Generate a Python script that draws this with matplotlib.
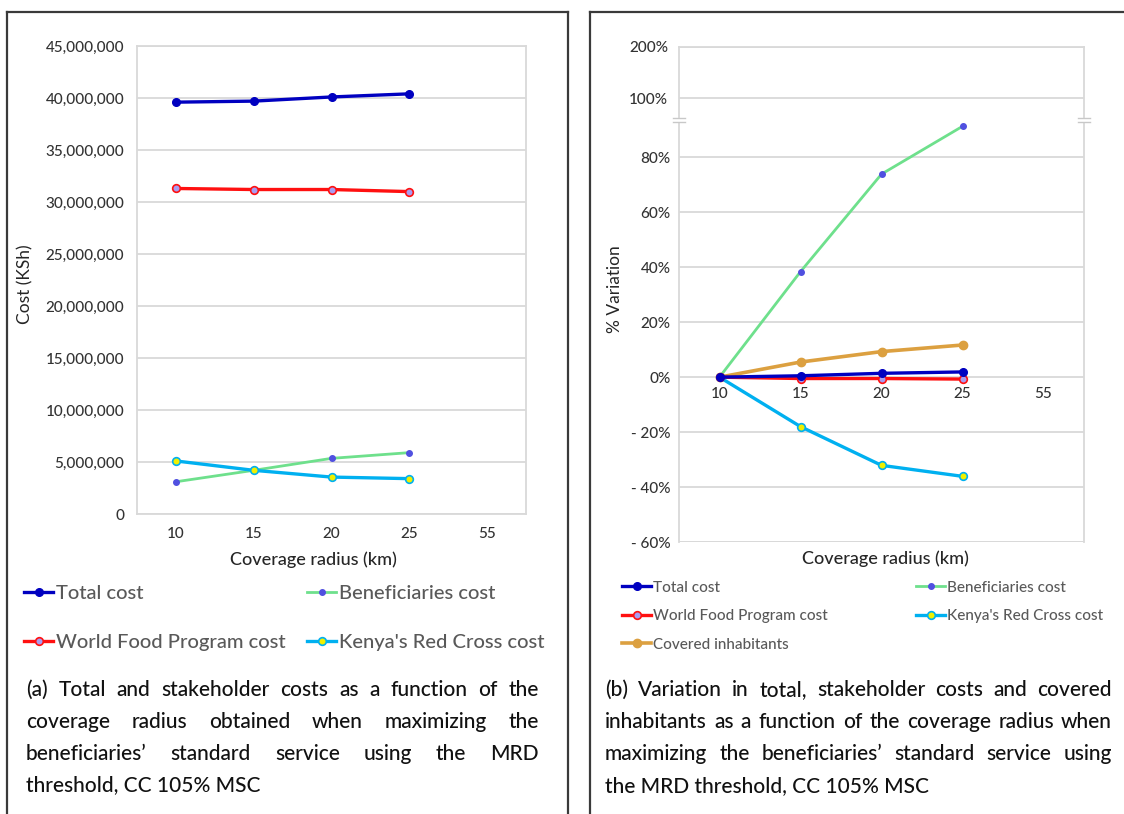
import numpy as np
import matplotlib.pyplot as plt
from matplotlib.lines import Line2D

plt.rcParams['font.family'] = ['Lato', 'DejaVu Sans']
plt.rcParams['font.weight'] = 'medium'

W, H = 1124, 814  # figure size in pixels

# ---- data ----
radius = ['10', '15', '20', '25', '55']

# (a) costs in KSh
total_cost = [39.6e6, 39.7e6, 40.1e6, 40.4e6]
wfp_cost = [31.3e6, 31.2e6, 31.2e6, 31.0e6]
benef_cost = [3.1e6, 4.2e6, 5.35e6, 5.9e6]
krc_cost = [5.1e6, 4.2e6, 3.55e6, 3.4e6]

# (b) % variation against the 10 km case
total_var = [0, 0.5, 1.4, 1.9]
wfp_var = [0, -0.5, -0.5, -0.7]
benef_var = [0, 38.4, 73.9, 91.3]
krc_var = [0, -18.0, -32.1, -36.1]
inhab_var = [0, 5.5, 9.3, 11.7]

cost_ticks = [0, 5e6, 10e6, 15e6, 20e6, 25e6, 30e6, 35e6, 40e6, 45e6]
var_ticks_low = [-60, -40, -20, 0, 20, 40, 60, 80]
var_labels_low = ['- 60%', '- 40%', '- 20%', '0%', '20%', '40%', '60%', '80%']
var_ticks_high = [100, 200]
var_labels_high = ['100%', '200%']

caption_a = ["(a) Total and stakeholder costs as a function of the",
             "coverage radius obtained when maximizing the",
             "beneficiaries\u2019 standard service using the MRD",
             "threshold, CC 105% MSC"]
caption_b = ["(b) Variation in total, stakeholder costs and covered",
             "inhabitants as a function of the coverage radius when",
             "maximizing the beneficiaries\u2019 standard service using",
             "the MRD threshold, CC 105% MSC"]

# ---- styles ----
styles = {
    'Total cost': dict(color='#0000c0', lw=2.4, marker='o', ms=5.5, mfc='#0000c0', mec='#0000c0'),
    'World Food Program cost': dict(color='#ff1010', lw=2.4, marker='o', ms=5.5, mfc='#a89cf0', mec='#ff1010', mew=1.2),
    'Beneficiaries cost': dict(color='#6ee08c', lw=2.0, marker='o', ms=4, mfc='#5050e0', mec='#5050e0'),
    "Kenya's Red Cross cost": dict(color='#00b0f0', lw=2.4, marker='o', ms=5.5, mfc='#f0f000', mec='#00b0f0', mew=1.2),
    'Covered inhabitants': dict(color='#dca040', lw=2.6, marker='o', ms=6, mfc='#dca040', mec='#dca040'),
}
grid_c = '#d9d9d9'
tick_c = '#333333'


def box(l, t, r, b):
    return [l / W, 1 - b / H, (r - l) / W, (b - t) / H]


def fx(x):
    return x / W


def fy(y):
    return 1 - y / H


fig = plt.figure(figsize=(W / 100, H / 100), dpi=100)

# ---------------- (a) ----------------
axa = fig.add_axes(box(137, 46, 526, 514))
xa = np.arange(len(total_cost))
axa.plot(xa, total_cost, **styles['Total cost'], zorder=3)
axa.plot(xa, wfp_cost, **styles['World Food Program cost'], zorder=3)
axa.plot(xa, benef_cost, **styles['Beneficiaries cost'], zorder=3)
axa.plot(xa, krc_cost, **styles["Kenya's Red Cross cost"], zorder=3)
axa.set_xlim(-0.5, len(radius) - 0.5)
axa.set_xticks(range(len(radius)))
axa.set_xticklabels(radius)
axa.set_ylim(0, 45e6)
axa.set_yticks(cost_ticks)
axa.set_yticklabels([f'{v:,.0f}' for v in cost_ticks])
axa.yaxis.grid(True, color=grid_c, lw=1.3)
axa.set_axisbelow(True)
for s in axa.spines.values():
    s.set_color(grid_c)
    s.set_linewidth(1.3)
axa.tick_params(length=0, labelsize=11, colors=tick_c)
axa.tick_params(axis='y', pad=9)
axa.tick_params(axis='x', pad=9)
axa.set_ylabel('Cost (KSh)', fontsize=12.5, color='#262626')
axa.yaxis.set_label_coords(-0.265, 0.49)
fig.text(fx(313), fy(560), 'Coverage radius (km)', fontsize=13, color='#262626',
         ha='center', va='center')

# ---------------- (b) ----------------
axb = fig.add_axes(box(679, 120, 1084, 542))
axh = fig.add_axes(box(679, 47, 1084, 120))
xb = np.arange(len(total_var))
axb.plot(xb, benef_var, **styles['Beneficiaries cost'], zorder=3)
axb.plot(xb, inhab_var, **styles['Covered inhabitants'], zorder=3)
axb.plot(xb, krc_var, **styles["Kenya's Red Cross cost"], zorder=3)
axb.plot(xb, wfp_var, **styles['World Food Program cost'], zorder=3)
axb.plot(xb, total_var, **styles['Total cost'], zorder=4)

for ax in (axb, axh):
    ax.set_xlim(-0.5, len(radius) - 0.5)
    ax.yaxis.grid(True, color=grid_c, lw=1.3)
    ax.set_axisbelow(True)
    for s in ax.spines.values():
        s.set_color(grid_c)
        s.set_linewidth(1.3)
    ax.tick_params(length=0, labelsize=11, colors=tick_c)
    ax.tick_params(axis='y', pad=6)

axb.set_ylim(-60, 93.6)
axb.set_yticks(var_ticks_low)
axb.set_yticklabels(var_labels_low)
axb.axhline(-60, color=grid_c, lw=2.0, zorder=1)
axb.spines['top'].set_visible(False)
axb.spines['bottom'].set_position(('data', 0))
axb.spines['bottom'].set_visible(False)
axb.set_xticks(range(len(radius)))
axb.set_xticklabels(radius)
axb.tick_params(axis='x', pad=7)

axh.set_ylim(58, 200)
axh.set_yticks(var_ticks_high)
axh.set_yticklabels(var_labels_high)
axh.set_xticks([])
axh.spines['bottom'].set_visible(False)
axh.tick_params(axis='y', pad=8)

axb.set_ylabel('% Variation', fontsize=12.5, color='#262626')
axb.yaxis.set_label_coords(-0.138, 0.6)
fig.text(fx(885), fy(559), 'Coverage radius (km)', fontsize=13, color='#262626',
         ha='center', va='center')

# axis break marks
for xb_px in (679, 1084):
    fig.add_artist(Line2D([fx(xb_px - 5), fx(xb_px + 5)], [fy(120), fy(120)],
                          transform=fig.transFigure, color='white', lw=3))
    for yy in (118.3, 121.7):
        fig.add_artist(Line2D([fx(xb_px - 6), fx(xb_px + 6)], [fy(yy), fy(yy)],
                              transform=fig.transFigure, color='#c8c8c8', lw=1))


# ---------------- legends ----------------
def handle(name):
    return Line2D([], [], **styles[name])


def add_legend(names, x, y, size, spacing, hl):
    fig.legend([handle(n) for n in names], names, loc='upper left',
               bbox_to_anchor=(fx(x), fy(y)), frameon=False, borderpad=0,
               borderaxespad=0, fontsize=size, labelcolor='#595959',
               handlelength=hl, handletextpad=0.15, labelspacing=spacing,
               numpoints=1)


add_legend(['Total cost', 'World Food Program cost'], 24, 585, 14.5, 1.6, 1.45)
add_legend(['Beneficiaries cost', "Kenya's Red Cross cost"], 307, 585, 14.5, 1.6, 1.45)
add_legend(['Total cost', 'World Food Program cost', 'Covered inhabitants'], 622, 580.5, 11, 0.96, 1.9)
add_legend(['Beneficiaries cost', "Kenya's Red Cross cost"], 916, 580.5, 11, 0.96, 1.9)


# ---------------- justified captions ----------------
def justified(lines, x0, x1, y0, step, size):
    r = fig.canvas.get_renderer()
    for i, line in enumerate(lines):
        y = fy(y0 + i * step)
        if i == len(lines) - 1:
            fig.text(fx(x0), y, line, fontsize=size, color='#111111', va='center')
            continue
        words = line.split()
        texts = [fig.text(0, y, w, fontsize=size, color='#111111', va='center') for w in words]
        widths = [t.get_window_extent(r).width for t in texts]
        gap = (x1 - x0 - sum(widths)) / (len(words) - 1)
        x = x0
        for t, w in zip(texts, widths):
            t.set_x(fx(x))
            x += w + gap


justified(caption_a, 26, 539, 690, 31.8, 15)
justified(caption_b, 605, 1112, 690, 32.0, 15)

# panel frames
frame = dict(transform=fig.transFigure, color='#3a3a3a', lw=1.6)
fig.add_artist(Line2D([fx(7), fx(568)], [fy(12), fy(12)], **frame))
fig.add_artist(Line2D([fx(7), fx(7)], [fy(12), 0], **frame))
fig.add_artist(Line2D([fx(568), fx(568)], [fy(12), 0], **frame))
fig.add_artist(Line2D([fx(590), 1], [fy(12), fy(12)], **frame))
fig.add_artist(Line2D([fx(590), fx(590)], [fy(12), 0], **frame))

fig.savefig('out.png', dpi=100)
